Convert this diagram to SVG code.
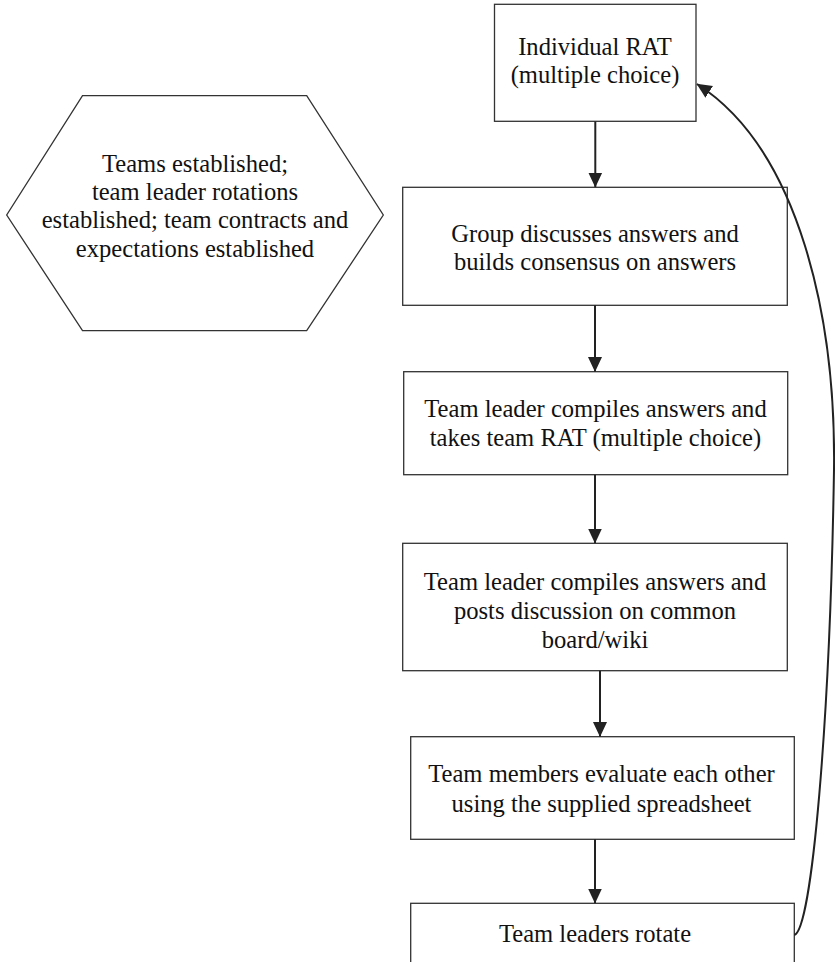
<svg xmlns="http://www.w3.org/2000/svg" width="835" height="962" viewBox="0 0 835 962">
<defs>
<marker id="ah" markerWidth="15" markerHeight="15" viewBox="0 0 15 15" refX="14.5" refY="7.5" orient="auto" markerUnits="userSpaceOnUse">
<path d="M0,0.5 L15,7.5 L0,14.5 Z" fill="#222"/>
</marker>
<style>
.box{fill:#fff;stroke:#333;stroke-width:1.3}
.t{font-family:"Liberation Serif","DejaVu Serif",serif;font-size:24.6px;fill:#111;text-anchor:middle}
.c{fill:none;stroke:#222;stroke-width:2}
</style>
</defs>
<rect width="835" height="962" fill="#fff"/>
<g id="n0">
<polygon class="box" points="82.5,95.7 306.7,95.7 383.3,215 306.7,330.7 82.5,330.7 6.7,215"/>
<text class="t" x="195" y="171.7">Teams established;</text>
<text class="t" x="195" y="200">team leader rotations</text>
<text class="t" x="195" y="228.3">established; team contracts and</text>
<text class="t" x="195" y="256.7">expectations established</text>
</g>
<g id="n1">
<rect class="box" x="494.5" y="4.3" width="201.5" height="117"/>
<text class="t" x="595" y="55">Individual RAT</text>
<text class="t" x="595" y="82.7">(multiple choice)</text>
</g>
<g id="n2">
<rect class="box" x="402.7" y="187.3" width="384.6" height="118"/>
<text class="t" x="595" y="241.7">Group discusses answers and</text>
<text class="t" x="595" y="270">builds consensus on answers</text>
</g>
<g id="n3">
<rect class="box" x="403.7" y="371.7" width="384" height="103"/>
<text class="t" x="595.5" y="416.7">Team leader compiles answers and</text>
<text class="t" x="595.5" y="446">takes team RAT (multiple choice)</text>
</g>
<g id="n4">
<rect class="box" x="402.7" y="543.3" width="384.6" height="127.4"/>
<text class="t" x="595" y="590">Team leader compiles answers and</text>
<text class="t" x="595" y="619.3">posts discussion on common</text>
<text class="t" x="595" y="648.3">board/wiki</text>
</g>
<g id="n5">
<rect class="box" x="410.7" y="736.7" width="383.6" height="102.6"/>
<text class="t" x="601.5" y="782.3">Team members evaluate each other</text>
<text class="t" x="601.5" y="811.7">using the supplied spreadsheet</text>
</g>
<g id="n6">
<rect class="box" x="410.7" y="903.3" width="383.6" height="70"/>
<text class="t" x="595" y="942.3">Team leaders rotate</text>
</g>
<g id="connectors">
<line class="c" x1="595.3" y1="121.5" x2="595.3" y2="187" marker-end="url(#ah)"/>
<line class="c" x1="595" y1="305.3" x2="595" y2="371.5" marker-end="url(#ah)"/>
<line class="c" x1="595" y1="474.7" x2="595" y2="543" marker-end="url(#ah)"/>
<line class="c" x1="600" y1="670.7" x2="600" y2="736.5" marker-end="url(#ah)"/>
<line class="c" x1="595" y1="839.3" x2="595" y2="903" marker-end="url(#ah)"/>
<path class="c" d="M794.3,935 C812,930 830,720 834,470 C836,320 800,150 697,84" marker-end="url(#ah)"/>
</g>
</svg>
